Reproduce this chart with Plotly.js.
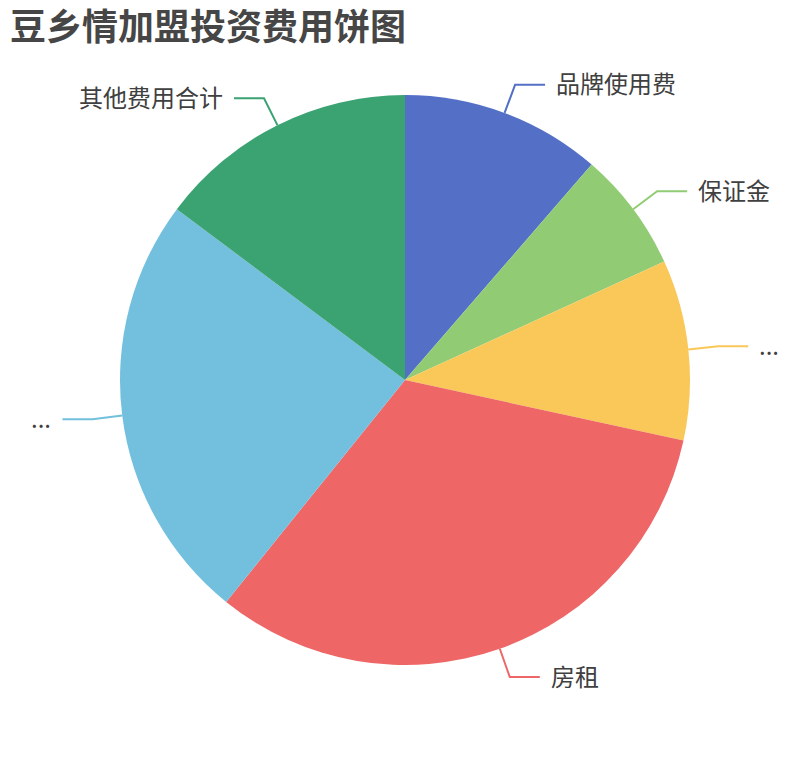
<!DOCTYPE html>
<html>
<head>
<meta charset="utf-8">
<script src="https://cdn.plot.ly/plotly-3.0.1.min.js"></script>
<style>
  html, body { margin: 0; padding: 0; background: #fff; }
  #chart { width: 810px; height: 760px; }
</style>
</head>
<body>
<div id="chart"></div>
<script>
// slice data (clockwise from 12 o'clock)
var names = ['品牌使用费', '保证金', '装修费用', '房租', '设备费用', '其他费用合计'];
var shown = ['品牌使用费', '保证金', '...', '房租', '...', '其他费用合计'];
var costs = [20000, 12000, 18000, 57000, 43000, 26000];
var colors = ['#5470c6', '#91cc75', '#fac858', '#ee6666', '#73c0de', '#3ba272'];

var W = 810, H = 760;
var mt = 95, mb = 95;
var cx = 405, cy = 380, R = 285;

function px(x) { return x / W; }
function py(y) { return 1 - (y - mt) / (H - mt - mb); }

var total = 0;
for (var i = 0; i < costs.length; i++) total += costs[i];

// leader lines + labels, placed from each slice's mid angle
var shapes = [];
var annotations = [];
var acc = 0;
for (var i = 0; i < costs.length; i++) {
    var mid = (acc + costs[i] / 2) / total * 2 * Math.PI;
    acc += costs[i];
    var sx = Math.sin(mid), sy = -Math.cos(mid);
    var x0 = cx + R * sx, y0 = cy + R * sy;
    var x1 = cx + (R + 30) * sx, y1 = cy + (R + 30) * sy;
    var dir = sx >= 0 ? 1 : -1;
    var x2 = x1 + dir * 30;
    shapes.push({
        type: 'path', xref: 'paper', yref: 'paper',
        path: 'M' + px(x0) + ',' + py(y0) + ' L' + px(x1) + ',' + py(y1) + ' L' + px(x2) + ',' + py(y1),
        line: { color: colors[i], width: 2 }
    });
    annotations.push({
        xref: 'paper', yref: 'paper',
        x: px(x2 + dir * 9), y: py(y1), yshift: 2,
        xanchor: dir > 0 ? 'left' : 'right', yanchor: 'middle',
        text: shown[i], showarrow: false,
        font: { family: 'Noto Sans CJK SC, sans-serif', size: 24, color: '#404040' }
    });
}

var data = [{
    type: 'pie',
    labels: names,
    values: costs,
    sort: false,
    direction: 'clockwise',
    rotation: 0,
    textinfo: 'none',
    hoverinfo: 'label+value+percent',
    marker: { colors: colors, line: { width: 0 } },
    domain: { x: [0, 1], y: [0, 1] }
}];

var layout = {
    width: W, height: H,
    margin: { l: 0, r: 0, t: mt, b: mb, autoexpand: false },
    paper_bgcolor: '#fff',
    showlegend: false,
    title: {
        text: '<b>豆乡情加盟投资费用饼图</b>',
        xref: 'container', yref: 'container',
        x: 10 / W, xanchor: 'left',
        y: 1 - 27 / H, yanchor: 'middle',
        font: { family: 'Noto Sans CJK SC, sans-serif', size: 36, color: '#464646' }
    },
    shapes: shapes,
    annotations: annotations
};

Plotly.newPlot('chart', data, layout, { displayModeBar: false, staticPlot: true });
</script>
</body>
</html>
